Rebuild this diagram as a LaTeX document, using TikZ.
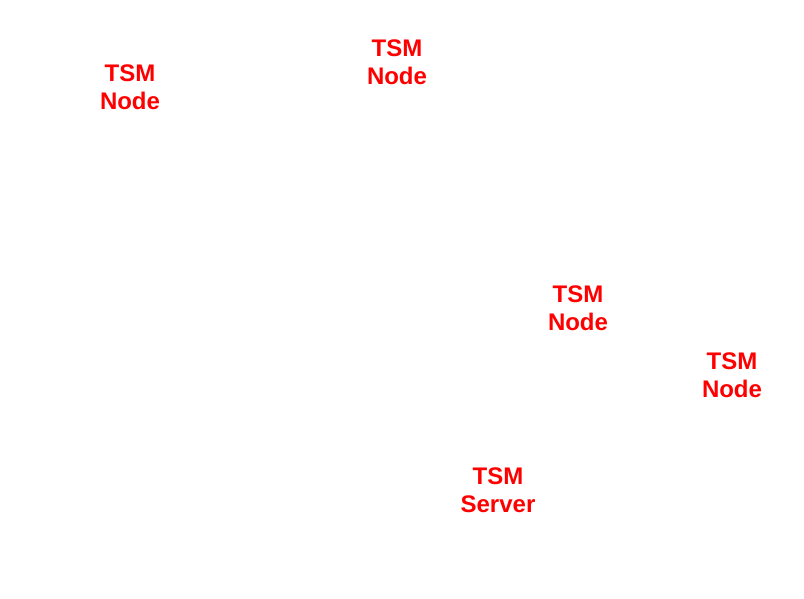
\documentclass[tikz,border=0pt]{standalone}
\usepackage{fontspec}
\setmainfont{Liberation Sans}
\begin{document}
\begin{tikzpicture}[x=1pt,y=-1pt,
  lbl/.style={text=red,font=\fontsize{24}{28}\selectfont\bfseries,align=center,inner sep=0pt}]
\useasboundingbox[fill=white] (0,0) rectangle (804,599);
\node[lbl] (n1) at (130,87) {TSM\\Node};
\node[lbl] (n2) at (397,62) {TSM\\Node};
\node[lbl] (n3) at (578,308) {TSM\\Node};
\node[lbl] (n4) at (732,375) {TSM\\Node};
\node[lbl] (srv) at (498,490) {TSM\\Server};
\end{tikzpicture}
\end{document}
